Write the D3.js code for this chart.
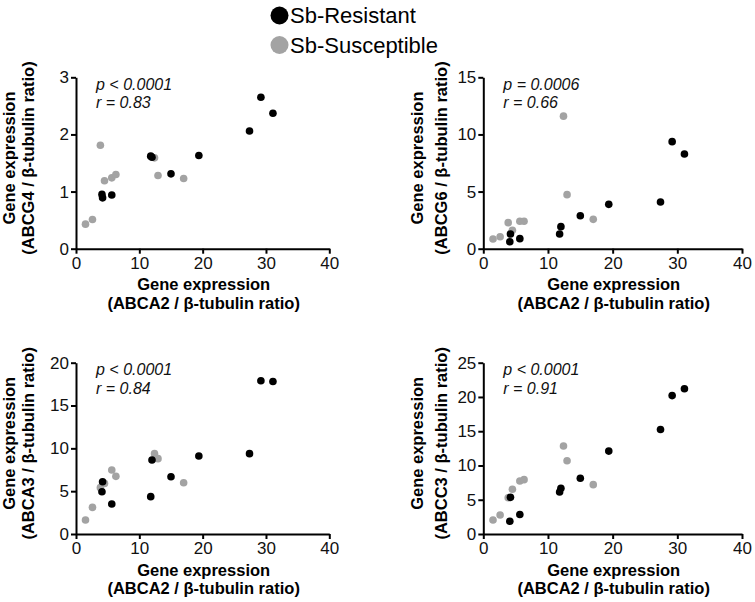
<!DOCTYPE html>
<html><head><meta charset="utf-8">
<script src="https://cdn.jsdelivr.net/npm/d3@7"></script>
<style>
body{margin:0;background:#fff;}
text{font-family:"Liberation Sans",Arial,Helvetica,sans-serif;}
</style>
</head><body>
<svg id="chart" width="755" height="602"></svg>
<script>
// ABCA2 / β-tubulin ratio (x), shared across panels
const resistantX   = [4.1, 4.2, 5.65, 11.8, 12.0, 15.0, 19.4, 27.4, 29.2, 31.1];
const susceptibleX = [1.5, 2.6, 3.85, 4.5, 5.65, 6.3, 12.4, 12.95, 17.0];

// Panel y values
const abcg4Resistant   = [0.95, 0.89, 0.94, 1.62, 1.60, 1.31, 1.63, 2.06, 2.65, 2.37];
const abcg4Susceptible = [0.43, 0.51, 1.81, 1.19, 1.24, 1.30, 1.59, 1.28, 1.23];
const abcg6Resistant   = [0.61, 1.28, 0.88, 1.29, 1.93, 2.89, 3.88, 4.09, 9.37, 8.29];
const abcg6Susceptible = [0.85, 1.05, 2.28, 1.61, 2.40, 2.40, 11.6, 4.73, 2.57];
const abca3Resistant   = [4.94, 6.10, 3.50, 4.36, 8.64, 6.69, 9.10, 9.38, 17.9, 17.8];
const abca3Susceptible = [1.63, 3.11, 5.41, 5.91, 7.47, 6.73, 9.38, 8.80, 5.99];
const abcc3Resistant   = [1.85, 5.35, 2.85, 6.13, 6.67, 8.13, 12.1, 15.25, 20.2, 21.2];
const abcc3Susceptible = [2.04, 2.77, 5.30, 6.52, 7.73, 7.93, 12.84, 10.7, 7.20];

const xTicks = [0, 10, 20, 30, 40];
const abcg4Ticks = [0, 1, 2, 3];
const abcg6Ticks = [0, 5, 10, 15];
const abca3Ticks = [0, 5, 10, 15, 20];
const abcc3Ticks = [0, 5, 10, 15, 20, 25];

const panelGenes = ["ABCG4", "ABCG6", "ABCA3", "ABCC3"];
const panelStats = [["p < 0.0001", "r = 0.83"], ["p = 0.0006", "r = 0.66"], ["p < 0.0001", "r = 0.84"], ["p < 0.0001", "r = 0.91"]];
const legendLabels = ["Sb-Resistant", "Sb-Susceptible"];

const colors = {resistant: "#000000", susceptible: "#a3a3a3"};

const panels = [
  {gene: panelGenes[0], stats: panelStats[0], ticks: abcg4Ticks, res: abcg4Resistant, sus: abcg4Susceptible,
   x0: 76, x1: 329.3, yTop: 77.3, yBot: 248.7, t1: 15, t2: 34},
  {gene: panelGenes[1], stats: panelStats[1], ticks: abcg6Ticks, res: abcg6Resistant, sus: abcg6Susceptible,
   x0: 483.3, x1: 742, yTop: 77.3, yBot: 248.7, t1: 423, t2: 447},
  {gene: panelGenes[2], stats: panelStats[2], ticks: abca3Ticks, res: abca3Resistant, sus: abca3Susceptible,
   x0: 76, x1: 329.3, yTop: 362.7, yBot: 534, t1: 15, t2: 34},
  {gene: panelGenes[3], stats: panelStats[3], ticks: abcc3Ticks, res: abcc3Resistant, sus: abcc3Susceptible,
   x0: 483.3, x1: 742, yTop: 362.7, yBot: 534, t1: 423, t2: 447}
];

const svg = d3.select("#chart");

// Legend
const legend = svg.append("g");
legendLabels.forEach((lab, i) => {
  const cy = 15.5 + i * 29.5;
  legend.append("circle").attr("cx", 279.5).attr("cy", cy).attr("r", 9)
    .attr("fill", i === 0 ? colors.resistant : colors.susceptible);
  legend.append("text").attr("x", 290).attr("y", cy + 7.8)
    .attr("font-size", 22).attr("fill", "#000").text(lab);
});

panels.forEach(p => {
  const yMax = p.ticks[p.ticks.length - 1];
  const x = d3.scaleLinear().domain([0, 40]).range([p.x0, p.x1]);
  const y = d3.scaleLinear().domain([0, yMax]).range([p.yBot, p.yTop]);
  const g = svg.append("g");

  const xAxis = g.append("g").attr("transform", `translate(0,${p.yBot})`)
    .call(d3.axisBottom(x).tickValues(xTicks).tickFormat(d3.format("d")).tickSize(5).tickPadding(3).tickSizeOuter(0));
  const yAxis = g.append("g").attr("transform", `translate(${p.x0},0)`)
    .call(d3.axisLeft(y).tickValues(p.ticks).tickFormat(d3.format("d")).tickSize(5).tickPadding(2).tickSizeOuter(0));
  [xAxis, yAxis].forEach(a => {
    a.select(".domain").attr("stroke", "#000").attr("stroke-width", 2);
    a.selectAll(".tick line").attr("stroke", "#000").attr("stroke-width", 2);
    a.selectAll(".tick text").attr("font-size", 17).attr("fill", "#111")
      .style("font-family", "'Liberation Sans', Arial, sans-serif");
  });

  // points
  const dots = g.append("g");
  dots.selectAll("circle.s").data(p.sus.map((v, i) => [susceptibleX[i], v])).join("circle")
    .attr("class", "s").attr("cx", d => x(d[0])).attr("cy", d => y(d[1])).attr("r", 3.8)
    .attr("fill", colors.susceptible);
  dots.selectAll("circle.r").data(p.res.map((v, i) => [resistantX[i], v])).join("circle")
    .attr("class", "r").attr("cx", d => x(d[0])).attr("cy", d => y(d[1])).attr("r", 3.8)
    .attr("fill", colors.resistant);

  // stats
  p.stats.forEach((s, i) => {
    g.append("text").attr("x", p.x0 + 20).attr("y", p.yTop + 12.5 + i * 18.5)
      .attr("font-size", 16).attr("font-style", "italic").attr("fill", "#111").text(s);
  });

  // x title
  const xc = (p.x0 + p.x1) / 2 + 1;
  g.append("text").attr("x", xc).attr("y", p.yBot + 41.5).attr("text-anchor", "middle")
    .attr("font-size", 16.5).attr("font-weight", "bold").text("Gene expression");
  g.append("text").attr("x", xc).attr("y", p.yBot + 60).attr("text-anchor", "middle")
    .attr("font-size", 16.5).attr("font-weight", "bold").text("(ABCA2 / β-tubulin ratio)");

  // y title
  const yc = (p.yTop + p.yBot) / 2 - 5;
  g.append("text").attr("transform", `translate(${p.t1},${yc}) rotate(-90)`).attr("text-anchor", "middle")
    .attr("font-size", 16.5).attr("font-weight", "bold").text("Gene expression");
  g.append("text").attr("transform", `translate(${p.t2},${yc}) rotate(-90)`).attr("text-anchor", "middle")
    .attr("font-size", 16.5).attr("font-weight", "bold").text(`(${p.gene} / β-tubulin ratio)`);
});
</script>
</body></html>
